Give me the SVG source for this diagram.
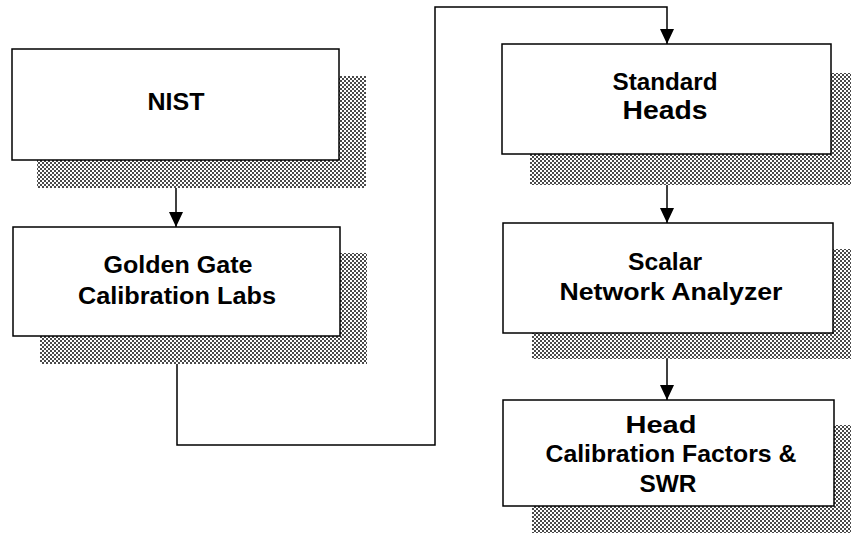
<svg xmlns="http://www.w3.org/2000/svg" width="851" height="533" viewBox="0 0 851 533">
<defs>
<pattern id="dots" width="4" height="4" patternUnits="userSpaceOnUse">
<rect width="4" height="4" fill="#ffffff"/>
<rect x="0" y="0" width="2" height="2" fill="#4a4a4a"/>
<rect x="2" y="2" width="2" height="2" fill="#4a4a4a"/>
</pattern>
<marker id="arr" markerWidth="15" markerHeight="14" refX="15" refY="7" orient="auto" markerUnits="userSpaceOnUse">
<path d="M0,0 L15,7 L0,14 Z" fill="#000"/>
</marker>
<style>
.shadow{fill:url(#dots);}
.box{fill:#fff;stroke:#000;stroke-width:1.5;}
.t{font-family:"Liberation Sans",Arial,sans-serif;font-weight:bold;fill:#000;text-anchor:middle;}
.edge{fill:none;stroke:#000;stroke-width:1.5;}
</style>
</defs>
<rect width="851" height="533" fill="#fff"/>

<g id="connectors">
<path class="edge" d="M176,160 V227" marker-end="url(#arr)"/>
<path class="edge" d="M177,336 V445 H435 V7 H667 V44" marker-end="url(#arr)"/>
<path class="edge" d="M667,155 V223" marker-end="url(#arr)"/>
<path class="edge" d="M667,333 V400" marker-end="url(#arr)"/>
</g>

<g id="nist">
<rect class="shadow" x="37" y="76" width="329" height="112"/>
<rect class="box" x="12" y="49" width="327" height="111"/>
<text class="t" x="176" y="110" font-size="24" textLength="57" lengthAdjust="spacingAndGlyphs">NIST</text>
</g>

<g id="golden-gate">
<rect class="shadow" x="40" y="253" width="327" height="111"/>
<rect class="box" x="13" y="227" width="327" height="109"/>
<text class="t" x="178" y="273" font-size="23" textLength="149" lengthAdjust="spacingAndGlyphs">Golden Gate</text>
<text class="t" x="177" y="304" font-size="23" textLength="198" lengthAdjust="spacingAndGlyphs">Calibration Labs</text>
</g>

<g id="standard-heads">
<rect class="shadow" x="530" y="73" width="321" height="112"/>
<rect class="box" x="502" y="44" width="329" height="110"/>
<text class="t" x="665" y="90" font-size="23" textLength="105" lengthAdjust="spacingAndGlyphs">Standard</text>
<text class="t" x="665" y="119" font-size="26" textLength="85" lengthAdjust="spacingAndGlyphs">Heads</text>
</g>

<g id="scalar">
<rect class="shadow" x="532" y="249" width="319" height="110"/>
<rect class="box" x="503" y="223" width="330" height="110"/>
<text class="t" x="665" y="270" font-size="24" textLength="74" lengthAdjust="spacingAndGlyphs">Scalar</text>
<text class="t" x="671" y="300" font-size="24" textLength="223" lengthAdjust="spacingAndGlyphs">Network Analyzer</text>
</g>

<g id="head-cal">
<rect class="shadow" x="532" y="425" width="319" height="108"/>
<rect class="box" x="503" y="400" width="331" height="106"/>
<text class="t" x="661" y="433" font-size="23" textLength="71" lengthAdjust="spacingAndGlyphs">Head</text>
<text class="t" x="671" y="462" font-size="23" textLength="251" lengthAdjust="spacingAndGlyphs">Calibration Factors &amp;</text>
<text class="t" x="668" y="492" font-size="23" textLength="57" lengthAdjust="spacingAndGlyphs">SWR</text>
</g>
</svg>
